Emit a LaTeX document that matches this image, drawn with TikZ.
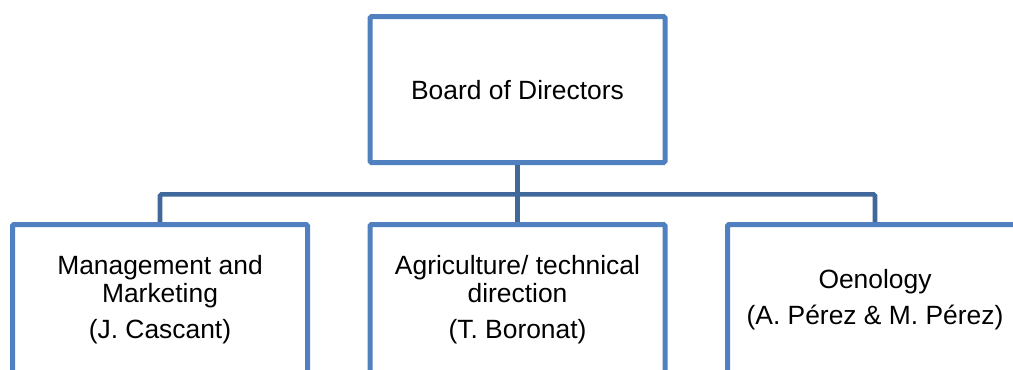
\documentclass[tikz,border=0pt]{standalone}
\usepackage{fontspec}
\setmainfont{Liberation Sans}
\usetikzlibrary{positioning}
\definecolor{boxblue}{HTML}{5080BF}
\definecolor{linkblue}{HTML}{41689B}
\begin{document}
\begin{tikzpicture}[node distance=157.5pt and 268.125pt,
unit/.style={
% The shape:
rectangle,
draw=boxblue,
line width=3.75pt,
rounded corners=1pt,
minimum width=221.25pt,
minimum height=112.5pt,
align=center,
font=\fontsize{19.8}{21}\selectfont
},
link/.style={
draw=linkblue,
line width=3.4pt,
rounded corners=1pt
}
]
\clip (0,0) rectangle (759.75pt,-276.75pt);
\useasboundingbox (0,0) rectangle (759.75pt,-276.75pt);
% Top row:
\node (board) [unit,minimum height=109.35pt] at (388.125pt,-67.2pt) {Board of Directors};
% Second row:
\node (agri) [unit,on grid,below=of board] {Agriculture/ technical\\direction\\[6pt](T. Boronat)};
\node (mgmt) [unit,on grid,left=of agri] {Management and\\Marketing\\[6pt](J. Cascant)};
\node (oeno) [unit,on grid,right=of agri] {Oenology\\[6pt](A. P\'erez \& M. P\'erez)};
\coordinate [below=22.1pt of board.south] (bus);
\draw [link] (mgmt.north) |- (bus) -| (oeno.north);
\draw [link,rounded corners=0pt] (board.south) -- (agri.north);
\end{tikzpicture}
\end{document}
